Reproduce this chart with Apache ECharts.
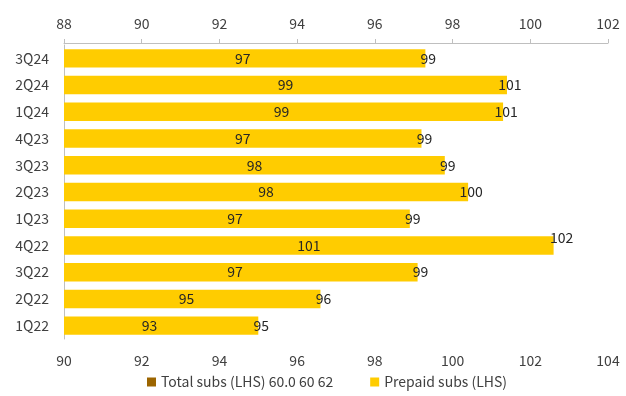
<!DOCTYPE html>
<html>
<head>
<meta charset="utf-8">
<script src="https://cdn.jsdelivr.net/npm/echarts@6/dist/echarts.min.js"></script>
<style>html,body{margin:0;padding:0;background:#fff;}#c{width:626px;height:396px;}</style>
</head>
<body>
<div id="c"></div>
<script>
// Categories, bottom to top
var categories = ['1Q22','2Q22','3Q22','4Q22','1Q23','2Q23','3Q23','4Q23','1Q24','2Q24','3Q24'];
// Prepaid subs (bottom axis, 90-104)
var prepaidValues = [95.0, 96.6, 99.1, 102.6, 98.9, 100.4, 99.8, 99.2, 101.3, 101.4, 99.3];
var prepaidLabels = ['95','96','99','102','99','100','99','99','101','101','99'];
// Total subs (top axis, 88-102)
var totalValues = [92.4, 94.3, 96.8, 100.6, 96.8, 98.4, 97.8, 97.2, 99.2, 99.4, 97.2];
var totalLabels = ['93','95','97','101','97','98','98','97','99','99','97'];
// Axis ticks
var bottomTicks = [90, 104, 2];
var topTicks = [88, 102, 2];

var seriesNames = ['Total subs (LHS) 60.0 60 62', 'Prepaid subs (LHS)'];
var FONT = "'Noto Sans CJK KR', 'Noto Sans', sans-serif";
var FS = 14;

var chart = echarts.init(document.getElementById('c'), null, {renderer: 'canvas'});

var prepaidData = prepaidValues.map(function (v, i) {
  var item = {value: v};
  if (categories[i] === '4Q22') {
    item.label = {offset: [8, -8]};
  }
  return item;
});

chart.setOption({
  animation: false,
  textStyle: {fontFamily: FONT},
  grid: {left: 64, right: 18, top: 45, bottom: 57, containLabel: false},
  legend: {
    left: 147,
    top: 375,
    padding: 0,
    itemWidth: 9,
    itemHeight: 9,
    itemGap: 37,
    icon: 'rect',
    selectedMode: false,
    textStyle: {fontFamily: FONT, fontSize: FS, color: '#404040'},
    data: [
      {name: seriesNames[0], itemStyle: {color: '#9C6500', opacity: 1}},
      {name: seriesNames[1], itemStyle: {color: '#FFCC00'}}
    ]
  },
  xAxis: [
    {
      type: 'value', position: 'bottom',
      min: bottomTicks[0], max: bottomTicks[1], interval: bottomTicks[2],
      axisLine: {show: false}, axisTick: {show: false}, splitLine: {show: false},
      axisLabel: {margin: 15, fontSize: FS, color: '#404040', fontFamily: FONT}
    },
    {
      type: 'value', position: 'top', offset: 2,
      min: topTicks[0], max: topTicks[1], interval: topTicks[2],
      axisLine: {show: true, lineStyle: {color: '#bfbfbf', width: 1}},
      axisTick: {show: true, length: 4, lineStyle: {color: '#bfbfbf'}},
      splitLine: {show: false},
      axisLabel: {margin: 12, fontSize: FS, color: '#404040', fontFamily: FONT}
    }
  ],
  yAxis: {
    type: 'category',
    data: categories,
    axisLine: {show: true, lineStyle: {color: '#bfbfbf', width: 1}},
    axisTick: {show: false},
    axisLabel: {margin: 15, fontSize: FS, color: '#404040', fontFamily: FONT}
  },
  series: [
    {
      name: seriesNames[1],
      type: 'bar',
      xAxisIndex: 0,
      z: 2,
      barCategoryGap: '31%',
      barGap: '-100%',
      itemStyle: {color: '#FFCC00'},
      emphasis: {disabled: true},
      label: {
        show: true,
        position: ['100%', '50%'],
        align: 'center',
        verticalAlign: 'middle',
        offset: [3, 0],
        fontSize: FS,
        color: '#262626',
        fontFamily: FONT,
        formatter: function (p) { return prepaidLabels[p.dataIndex]; }
      },
      data: prepaidData
    },
    {
      name: seriesNames[0],
      type: 'bar',
      xAxisIndex: 1,
      z: 3,
      barCategoryGap: '31%',
      barGap: '-100%',
      itemStyle: {color: 'rgba(0,0,0,0)'},
      emphasis: {disabled: true},
      label: {
        show: true,
        position: 'inside',
        fontSize: FS,
        color: '#262626',
        fontFamily: FONT,
        formatter: function (p) { return totalLabels[p.dataIndex]; }
      },
      data: totalValues
    }
  ]
});
</script>
</body>
</html>
